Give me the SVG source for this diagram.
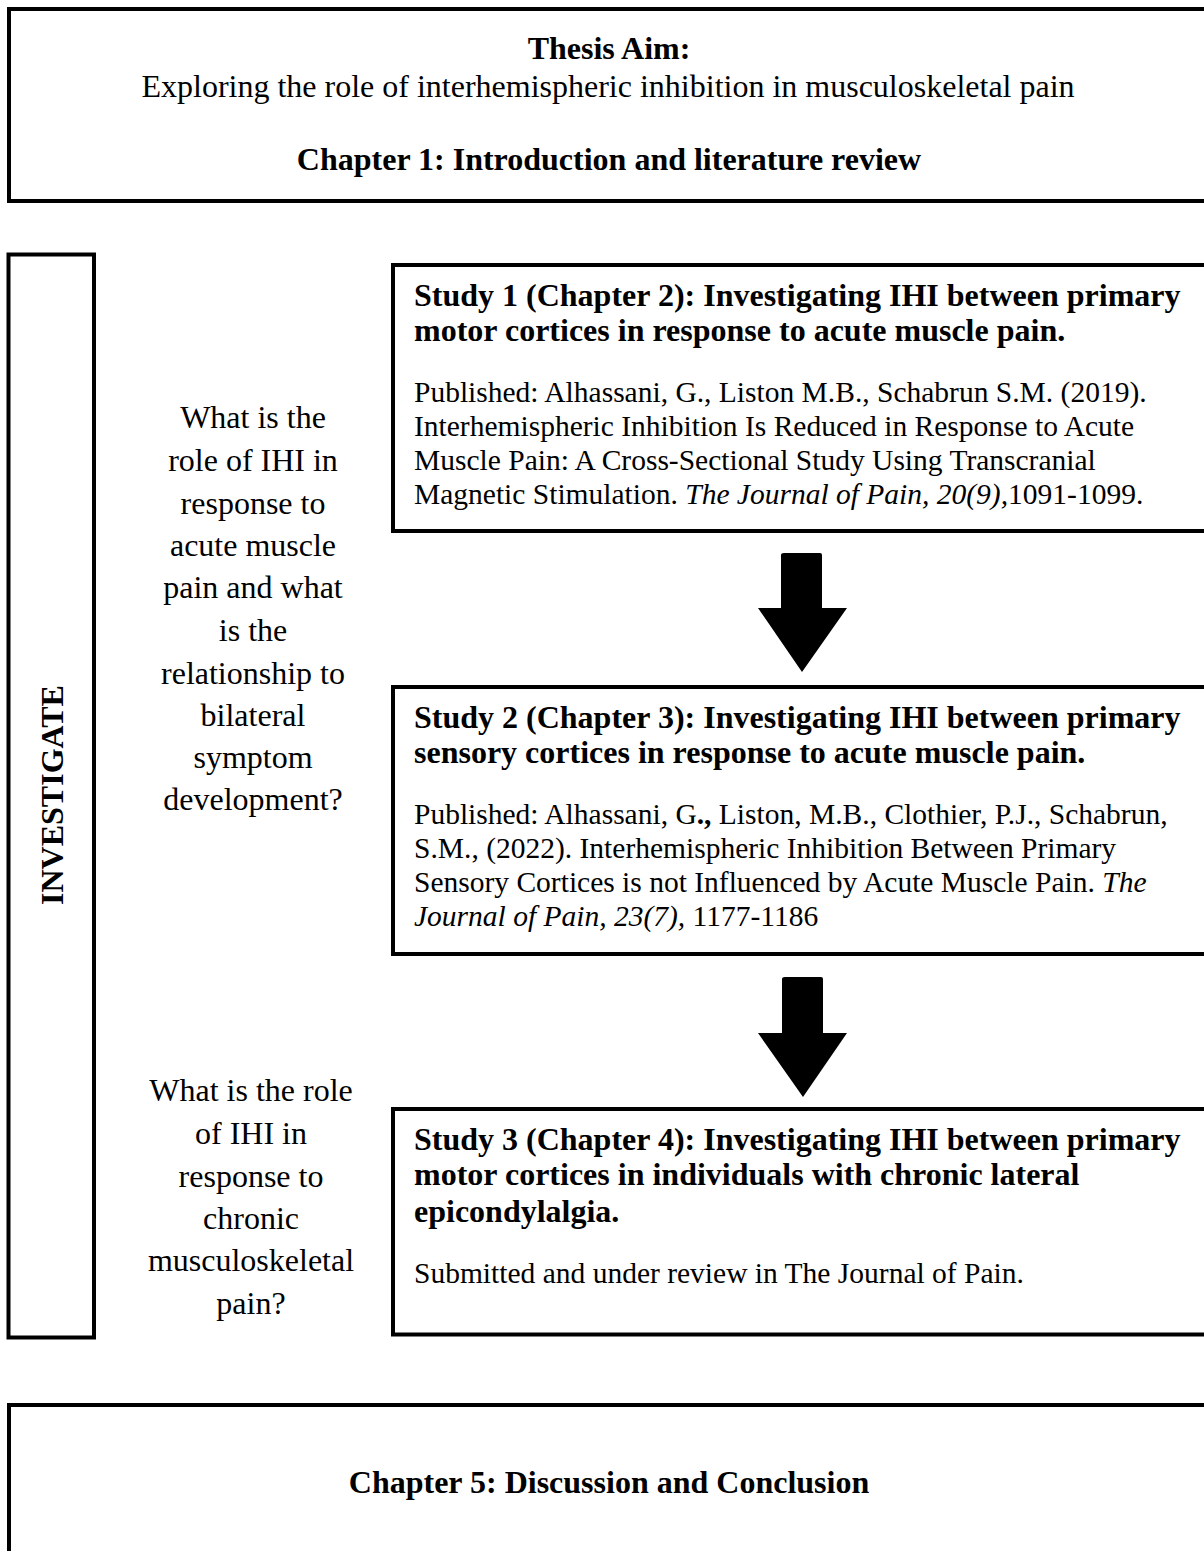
<svg xmlns="http://www.w3.org/2000/svg" width="1204" height="1551" viewBox="0 0 1204 1551">
<style>
.box{fill:#fff;stroke:#000;stroke-width:4}
text{font-family:"Liberation Serif","Times New Roman",serif;fill:#000}
.b{font-weight:bold}
.h{font-size:32px;font-weight:bold}
.p{font-size:29.5px}
.q{font-size:32px;text-anchor:middle}
.c{text-anchor:middle}
</style>
<g id="aim">
<rect class="box" x="9" y="9" width="1215" height="192"/>
<text class="c b" x="609" y="59" font-size="32">Thesis Aim:</text>
<text class="c" x="608" y="97" font-size="32">Exploring the role of interhemispheric inhibition in musculoskeletal pain</text>
<text class="c b" x="609" y="170" font-size="32">Chapter 1: Introduction and literature review</text>
</g>
<g id="investigate">
<rect class="box" x="8.5" y="254.5" width="85.5" height="1083"/>
<text class="b" font-size="32" text-anchor="middle" transform="translate(63,795) rotate(-90)">INVESTIGATE</text>
</g>
<g id="question1">
<text class="q" x="253" y="428">What is the</text>
<text class="q" x="253" y="471">role of IHI in</text>
<text class="q" x="253" y="514">response to</text>
<text class="q" x="253" y="556">acute muscle</text>
<text class="q" x="253" y="598">pain and what</text>
<text class="q" x="253" y="641">is the</text>
<text class="q" x="253" y="684">relationship to</text>
<text class="q" x="253" y="726">bilateral</text>
<text class="q" x="253" y="768">symptom</text>
<text class="q" x="253" y="810">development?</text>
</g>
<g id="question2">
<text class="q" x="251" y="1101">What is the role</text>
<text class="q" x="251" y="1144">of IHI in</text>
<text class="q" x="251" y="1187">response to</text>
<text class="q" x="251" y="1229">chronic</text>
<text class="q" x="251" y="1271">musculoskeletal</text>
<text class="q" x="251" y="1314">pain?</text>
</g>
<g id="study1">
<rect class="box" x="393" y="265" width="830" height="266"/>
<text class="h" x="414" y="306">Study 1 (Chapter 2): Investigating IHI between primary</text>
<text class="h" x="414" y="341">motor cortices in response to acute muscle pain.</text>
<text class="p" x="414" y="402">Published: Alhassani, G., Liston M.B., Schabrun S.M. (2019).</text>
<text class="p" x="414" y="436">Interhemispheric Inhibition Is Reduced in Response to Acute</text>
<text class="p" x="414" y="470">Muscle Pain: A Cross-Sectional Study Using Transcranial</text>
<text class="p" x="414" y="504">Magnetic Stimulation. <tspan font-style="italic">The Journal of Pain, 20(9),</tspan>1091-1099.</text>
</g>
<g id="study2">
<rect class="box" x="393" y="687" width="830" height="267"/>
<text class="h" x="414" y="728">Study 2 (Chapter 3): Investigating IHI between primary</text>
<text class="h" x="414" y="763">sensory cortices in response to acute muscle pain.</text>
<text class="p" x="414" y="824">Published: Alhassani, G<tspan font-weight="bold">.,</tspan> Liston, M.B., Clothier, P.J., Schabrun,</text>
<text class="p" x="414" y="858">S.M., (2022). Interhemispheric Inhibition Between Primary</text>
<text class="p" x="414" y="892">Sensory Cortices is not Influenced by Acute Muscle Pain. <tspan font-style="italic">The</tspan></text>
<text class="p" x="414" y="926"><tspan font-style="italic">Journal of Pain, 23(7),</tspan> 1177-1186</text>
</g>
<g id="study3">
<rect class="box" x="393" y="1109" width="830" height="225.5"/>
<text class="h" x="414" y="1150">Study 3 (Chapter 4): Investigating IHI between primary</text>
<text class="h" x="414" y="1185">motor cortices in individuals with chronic lateral</text>
<text class="h" x="414" y="1222">epicondylalgia.</text>
<text class="p" x="414" y="1283">Submitted and under review in The Journal of Pain.</text>
</g>
<g id="chapter5">
<rect class="box" x="9" y="1405" width="1215" height="170"/>
<text class="c b" x="609" y="1493" font-size="32">Chapter 5: Discussion and Conclusion</text>
</g>
<g id="connectors">
<path d="M784 553 H820 Q822 553 822 555 V608 H847 L802 672 L758 608 H781 V555 Q781 553 784 553 Z" fill="#000"/>
<path d="M785 977 H821 Q823 977 823 979 V1033 H847 L803 1097 L758 1033 H782 V979 Q782 977 785 977 Z" fill="#000"/>
</g>
</svg>
